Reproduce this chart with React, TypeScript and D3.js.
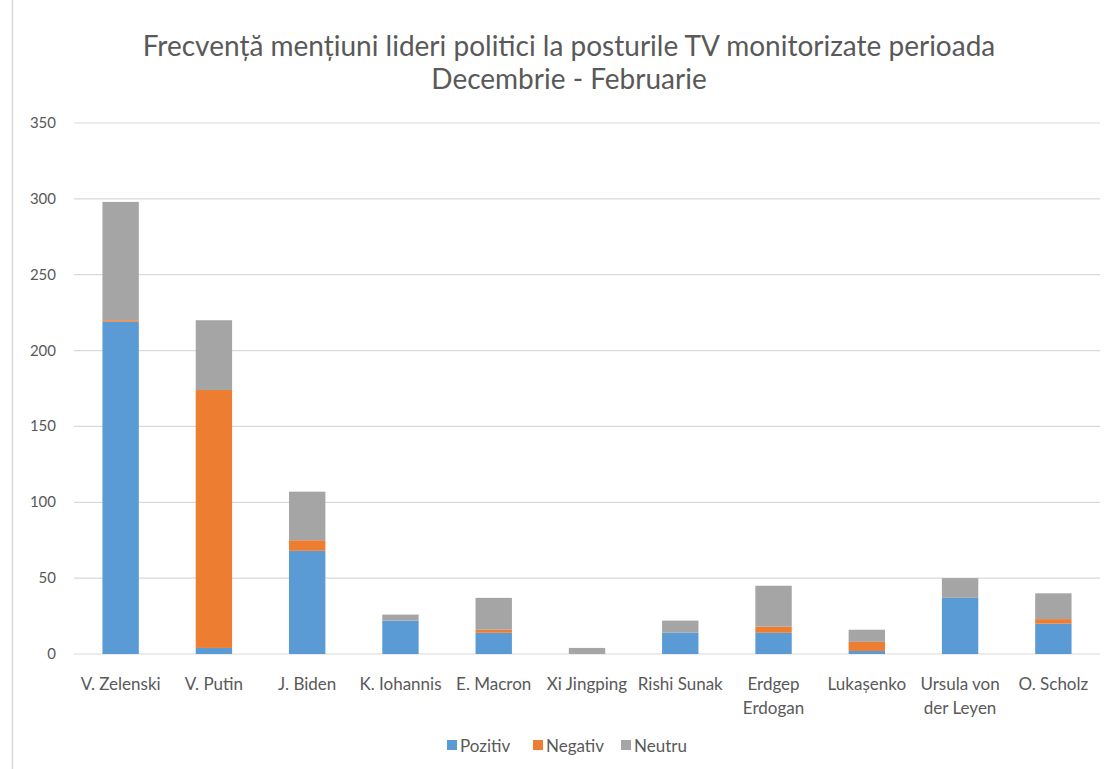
import React from "react";
import * as d3 from "d3";

const categories = [
  "V. Zelenski",
  "V. Putin",
  "J. Biden",
  "K. Iohannis",
  "E. Macron",
  "Xi Jingping",
  "Rishi Sunak",
  "Erdgep|Erdogan",
  "Lukașenko",
  "Ursula von|der Leyen",
  "O. Scholz",
];
const pozitiv = [219, 4, 68, 22, 14, 0, 14, 14, 2, 37, 20];
const negativ = [1, 170, 7, 0, 2, 0, 0, 4, 6, 0, 3];
const neutru = [78, 46, 32, 4, 21, 4, 8, 27, 8, 13, 17];
const seriesNames = ["Pozitiv", "Negativ", "Neutru"];
const seriesColors = ["#5B9BD5", "#ED7D31", "#A5A5A5"];
const yTicks = [0, 50, 100, 150, 200, 250, 300, 350];
const titleLines = [
  "Frecvență mențiuni lideri politici la posturile TV monitorizate perioada",
  "Decembrie - Februarie",
];

const W = 1110;
const H = 769;
const M = { left: 74, right: 1100, top: 123, bottom: 654 };
const FONT = "Lato, 'Open Sans', sans-serif";
const TEXT = "#595959";

export default function App() {
  const x = d3.scaleBand<number>().domain(d3.range(categories.length)).range([M.left, M.right]).paddingInner(0.61).paddingOuter(0.305);
  const y = d3.scaleLinear().domain([0, 350]).range([M.bottom, M.top]);
  const rows = categories.map((c, i) => ({ i, Pozitiv: pozitiv[i], Negativ: negativ[i], Neutru: neutru[i] }));
  const stacked = d3.stack<any>().keys(seriesNames)(rows);

  const legendX = [447, 533, 621];

  return (
    <svg width={W} height={H} style={{ position: "absolute", left: 0, top: 0, background: "#fff" }}>
      <rect x={0} y={0} width={W} height={H} fill="#fff" />
      <line x1={12.5} x2={12.5} y1={0} y2={H} stroke="#D9D9D9" strokeWidth={1.5} />
      {titleLines.map((t, k) => (
        <text key={k} x={569} y={56 + k * 33} textAnchor="middle" fontFamily={FONT} fontSize={28} fill={TEXT}>
          {t}
        </text>
      ))}
      {yTicks.map((v) => (
        <g key={v}>
          <line x1={M.left} x2={M.right} y1={y(v)} y2={y(v)} stroke="#D9D9D9" strokeWidth={1.2} />
          <text x={56} y={y(v) + 5} textAnchor="end" fontFamily={FONT} fontSize={15} fill={TEXT}>
            {v}
          </text>
        </g>
      ))}
      {stacked.map((s, si) => (
        <g key={s.key} fill={seriesColors[si]}>
          {s.map((d, i) =>
            d[1] - d[0] > 0 ? (
              <rect key={i} x={x(i)} width={x.bandwidth()} y={y(d[1])} height={y(d[0]) - y(d[1])} />
            ) : null
          )}
        </g>
      ))}
      {categories.map((c, i) => (
        <text key={c} x={(x(i) as number) + x.bandwidth() / 2} y={690} textAnchor="middle" fontFamily={FONT} fontSize={17} fill={TEXT}>
          {c.split("|").map((line, k) => (
            <tspan key={k} x={(x(i) as number) + x.bandwidth() / 2} dy={k === 0 ? 0 : 24}>
              {line}
            </tspan>
          ))}
        </text>
      ))}
      {seriesNames.map((n, k) => (
        <g key={n}>
          <rect x={legendX[k]} y={740} width={10} height={10} fill={seriesColors[k]} />
          <text x={legendX[k] + 13} y={752} fontFamily={FONT} fontSize={17} fill={TEXT}>
            {n}
          </text>
        </g>
      ))}
    </svg>
  );
}
